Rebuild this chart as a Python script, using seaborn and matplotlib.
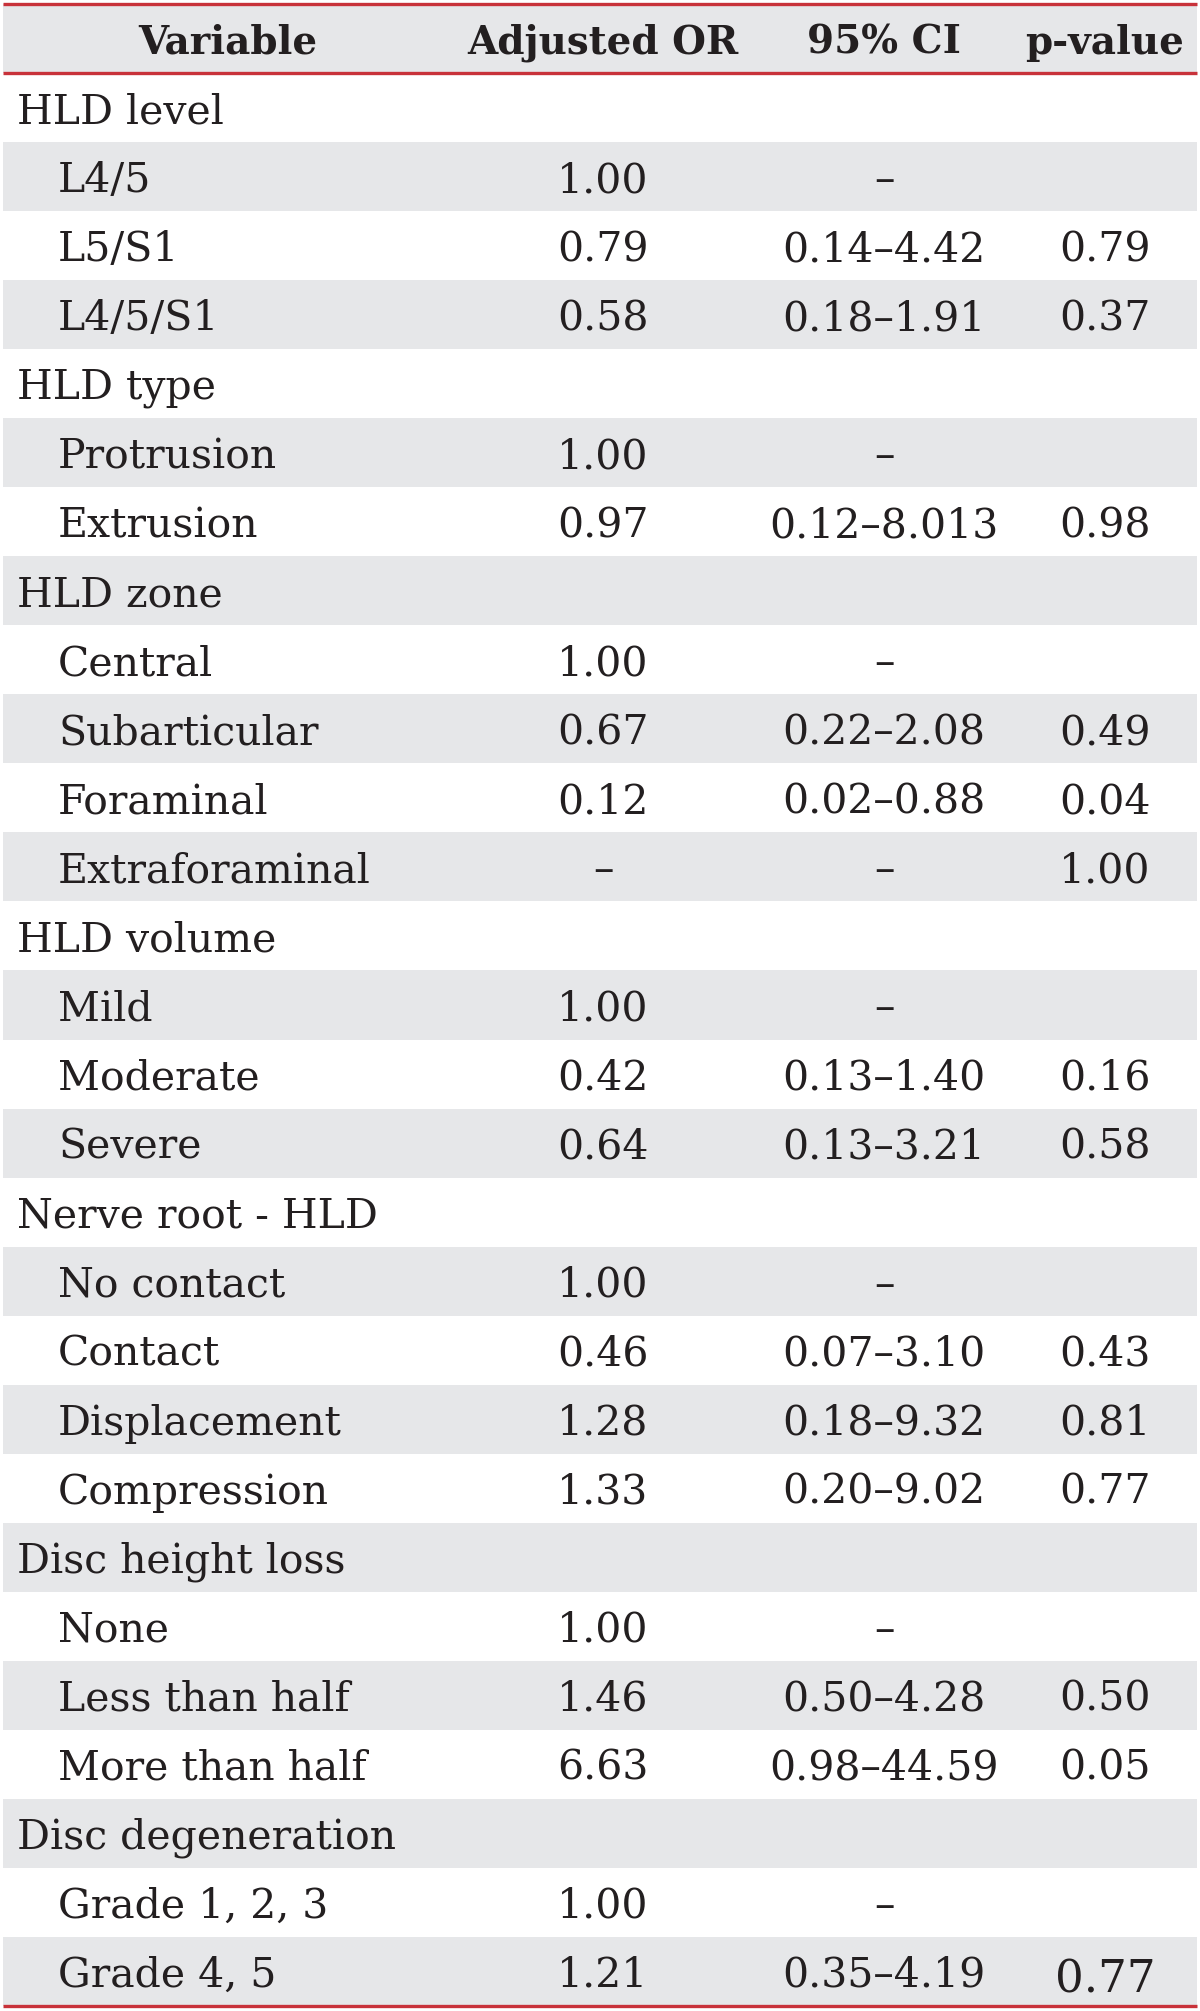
import numpy as np
import matplotlib
matplotlib.use("Agg")
import matplotlib.pyplot as plt
import seaborn as sns

# Table content
headers = ["Variable", "Adjusted OR", "95% CI", "p-value"]

labels = ["HLD level", "L4/5", "L5/S1", "L4/5/S1",
          "HLD type", "Protrusion", "Extrusion",
          "HLD zone", "Central", "Subarticular", "Foraminal", "Extraforaminal",
          "HLD volume", "Mild", "Moderate", "Severe",
          "Nerve root - HLD", "No contact", "Contact", "Displacement", "Compression",
          "Disc height loss", "None", "Less than half", "More than half",
          "Disc degeneration", "Grade 1, 2, 3", "Grade 4, 5"]

# True = group heading, False = sub-item (indented)
is_group = [True, False, False, False,
            True, False, False,
            True, False, False, False, False,
            True, False, False, False,
            True, False, False, False, False,
            True, False, False, False,
            True, False, False]

adj_or = ["", "1.00", "0.79", "0.58",
          "", "1.00", "0.97",
          "", "1.00", "0.67", "0.12", "\u2013",
          "", "1.00", "0.42", "0.64",
          "", "1.00", "0.46", "1.28", "1.33",
          "", "1.00", "1.46", "6.63",
          "", "1.00", "1.21"]

ci = ["", "\u2013", "0.14\u20134.42", "0.18\u20131.91",
      "", "\u2013", "0.12\u20138.013",
      "", "\u2013", "0.22\u20132.08", "0.02\u20130.88", "\u2013",
      "", "\u2013", "0.13\u20131.40", "0.13\u20133.21",
      "", "\u2013", "0.07\u20133.10", "0.18\u20139.32", "0.20\u20139.02",
      "", "\u2013", "0.50\u20134.28", "0.98\u201344.59",
      "", "\u2013", "0.35\u20134.19"]

p_values = ["", "", "0.79", "0.37",
            "", "", "0.98",
            "", "", "0.49", "0.04", "1.00",
            "", "", "0.16", "0.58",
            "", "", "0.43", "0.81", "0.77",
            "", "", "0.50", "0.05",
            "", "", "0.77"]

sns.set_theme(style="white")
plt.rcParams["font.family"] = ["DejaVu Serif", "Liberation Serif"]

text_color = "#231f20"
band_color = "#e6e7e9"
rule_color = "#c8323a"

n = len(labels)
fig = plt.figure(figsize=(12, 20.11), dpi=100)
ax = fig.add_axes([0, 0, 1, 1])
row_px = 2002 / (n + 1)
ax.set_xlim(0, 1200)
ax.set_ylim(n + 0.5 + 5 / row_px, -0.5 - 4 / row_px)
ax.axis("off")

# header band + alternating row bands
rows = np.arange(n + 1)
shaded = [r for r in rows if r % 2 == 0]
ax.barh(shaded, 1194, left=3, height=1.0, color=band_color, linewidth=0)

# red rules
for yy in [-0.5, 0.5, n + 0.5]:
    ax.plot([3, 1197], [yy, yy], color=rule_color, lw=2.4, solid_capstyle="butt")

fs = 29.5
col_x = [228, 603, 884, 1105]
for x, h in zip(col_x, headers):
    ax.text(x, 0, h, ha="center", va="center_baseline",
            fontsize=28, fontweight="bold", color=text_color)

for i in range(n):
    y = i + 1
    x0 = 17 if is_group[i] else 58
    ax.text(x0, y, labels[i], ha="left", va="center_baseline",
            fontsize=fs, color=text_color)
    ax.text(col_x[1], y, adj_or[i], ha="center", va="center_baseline",
            fontsize=fs, color=text_color)
    ax.text(col_x[2], y, ci[i], ha="center", va="center_baseline",
            fontsize=fs, color=text_color)
    pfs = fs + 3 if i == n - 1 else fs
    ax.text(col_x[3], y + (0.06 if i == n - 1 else 0), p_values[i], ha="center",
            va="center_baseline", fontsize=pfs, color=text_color)

fig.savefig("out.png", dpi=100, facecolor="white")
